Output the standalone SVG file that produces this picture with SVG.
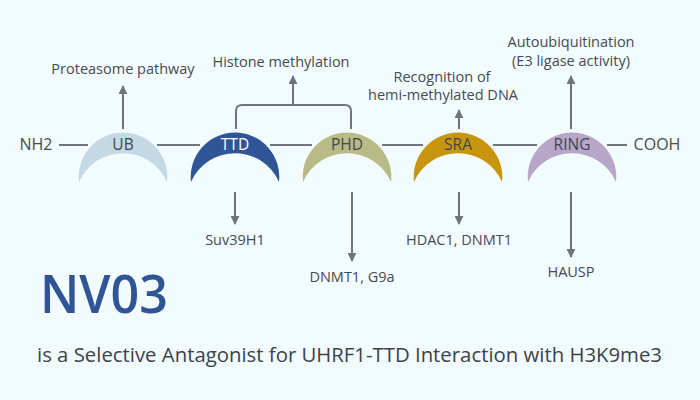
<svg xmlns="http://www.w3.org/2000/svg" width="700" height="400" viewBox="0 0 700 400">
<defs>
<style>
.t{font-family:"Open Sans","Noto Sans","DejaVu Sans",sans-serif;fill:#454b52;font-size:14.5px;text-anchor:middle}
.d{font-size:16px}
.ln{stroke:#707579;stroke-width:2;fill:none}
.lbl{font-family:"Open Sans","Noto Sans","DejaVu Sans",sans-serif;font-size:15.5px;text-anchor:middle;fill:#3f4850}
</style>
<marker id="ah" viewBox="0 0 10 10" refX="9" refY="5" markerWidth="4.5" markerHeight="4.5" orient="auto" markerUnits="strokeWidth">
<path d="M0,0 L10,5 L0,10 z" fill="#707579"/>
</marker>
<path id="cr" d="M-44,37 A44.3,44.3 0 1 1 44,37 A48,48 0 0 0 -44,37 Z"/>
</defs>
<rect width="700" height="400" fill="#f2fbfd"/>
<g id="connectors">
<path class="ln" d="M59,145H88M157,145H200M270,145H312M382,145H423M493,145H537M607,145H627"/>
<path class="ln" marker-end="url(#ah)" d="M123,129V86"/>
<path class="ln" d="M236,129V111Q236,105 242,105H345Q351,105 351,111V129"/>
<path class="ln" marker-end="url(#ah)" d="M293,105V76"/>
<path class="ln" marker-end="url(#ah)" d="M459,129V110"/>
<path class="ln" marker-end="url(#ah)" d="M571,129V76"/>
<path class="ln" marker-end="url(#ah)" d="M235,192V224"/>
<path class="ln" marker-end="url(#ah)" d="M352,192V261"/>
<path class="ln" marker-end="url(#ah)" d="M459,192V224"/>
<path class="ln" marker-end="url(#ah)" d="M571,192V257"/>
</g>
<g id="nh2"><text class="t d" x="36" y="150">NH2</text></g>
<g id="cooh"><text class="t d" x="657" y="150">COOH</text></g>
<g id="ub"><use href="#cr" x="123" y="145" fill="#c4d9e6"/><text class="lbl" x="123" y="150">UB</text></g>
<g id="ttd"><use href="#cr" x="235" y="145" fill="#2f5597"/><text class="lbl" x="235" y="150" fill="#ffffff" style="fill:#ffffff">TTD</text></g>
<g id="phd"><use href="#cr" x="347" y="145" fill="#b9bb87"/><text class="lbl" x="347" y="150">PHD</text></g>
<g id="sra"><use href="#cr" x="458" y="145" fill="#c8960e"/><text class="lbl" x="458" y="150">SRA</text></g>
<g id="ring"><use href="#cr" x="572" y="145" fill="#b8a6c9"/><text class="lbl" x="572" y="150">RING</text></g>
<g id="proteasome"><text class="t" x="123" y="74">Proteasome pathway</text></g>
<g id="histone"><text class="t" x="281" y="67">Histone methylation</text></g>
<g id="recognition"><text class="t" x="442" y="82">Recognition of</text><text class="t" x="443" y="100">hemi-methylated DNA</text></g>
<g id="auto"><text class="t" x="571" y="47">Autoubiquitination</text><text class="t" x="571" y="66">(E3 ligase activity)</text></g>
<g id="suv"><text class="t" x="235" y="245">Suv39H1</text></g>
<g id="dnmt"><text class="t" x="352" y="282">DNMT1, G9a</text></g>
<g id="hdac"><text class="t" x="459" y="245">HDAC1, DNMT1</text></g>
<g id="hausp"><text class="t" x="571" y="277">HAUSP</text></g>
<g id="title"><text x="40" y="313" font-family="'Open Sans','Noto Sans',sans-serif" font-size="53" font-weight="600" fill="#2f5597" textLength="128" lengthAdjust="spacingAndGlyphs">NV03</text></g>
<g id="subtitle"><text x="37" y="362" font-family="'Open Sans','Noto Sans',sans-serif" font-size="20" fill="#3c434a" textLength="625" lengthAdjust="spacingAndGlyphs">is a Selective Antagonist for UHRF1-TTD Interaction with H3K9me3</text></g>
</svg>
